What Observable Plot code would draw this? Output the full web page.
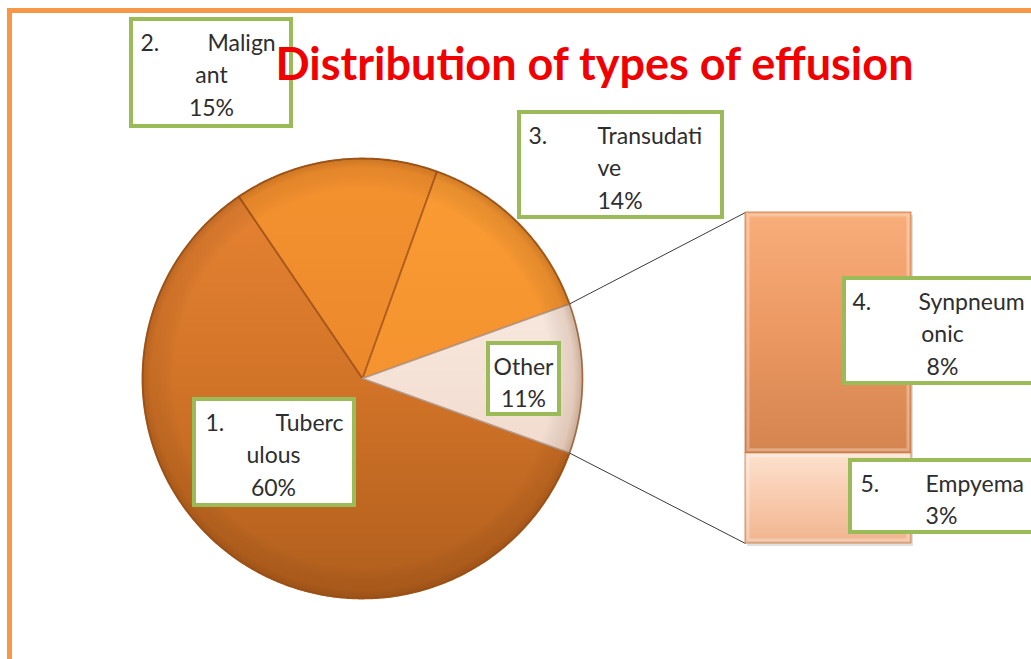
<!DOCTYPE html>
<html><head><meta charset="utf-8">
<script src="https://cdn.jsdelivr.net/npm/d3@7"></script>
<script src="https://cdn.jsdelivr.net/npm/@observablehq/plot@0.6"></script>
<style>
body{margin:0;background:#fff;}
#wrap{position:relative;width:1031px;height:659px;overflow:hidden;background:#fff;}
#wrap svg{position:absolute;left:0;top:0;}
#frame{position:absolute;left:7px;top:8px;width:1100px;height:700px;border-left:5px solid #F79646;border-top:5px solid #F79646;}
</style></head><body><div id="wrap"><div id="frame"></div></div>
<script>
// ---- data ----
const title = "Distribution of types of effusion";
const pieCategories = ["Tuberculous", "Malignant", "Transudative", "Other"];
const pieValues = [60, 15, 14, 11];
const pieNumbers = ["1.", "2.", "3.", null];
const barCategories = ["Synpneumonic", "Empyema"];
const barValues = [8, 3];
const barNumbers = ["4.", "5."];

// ---- layout (positions / styles) ----
const W = 1031, H = 659;
const pieGeom = {cx: 362, cy: 378, r: 220};
const barGeom = {x1: 745, x2: 911, yTop: 212, yBottom: 543};
const FONT = "Lato, 'Open Sans', sans-serif";
const labelFont = 23, lineStep = 32.5;
const labelLayout = {
  Tuberculous:  {box: [194, 354, 399, 505], numX: 205, wordX: 275, restX: 273, restAnchor: "middle", brk: 6},
  Malignant:    {box: [131, 291, 19, 126],  numX: 140, wordX: 207, restX: 211, restAnchor: "middle", brk: 6},
  Transudative: {box: [519, 722, 112, 217], numX: 528, wordX: 597, restX: 597, restAnchor: "start", brk: 10},
  Other:        {box: [488, 559, 343, 414], numX: null, wordX: 523, restX: 523, restAnchor: "middle", brk: 99},
  Synpneumonic: {box: [844, 1040, 278, 383], numX: 852, wordX: 918, restX: 942, restAnchor: "middle", brk: 8},
  Empyema:      {box: [850, 1036, 460, 532], numX: 860, wordX: 925, restX: 941, restAnchor: "middle", brk: 99}
};
const pieColors = [
  ["#EA8534", "#D27428", "#B05E1D"],
  ["#F5922F", "#EB882B", "#D57826"],
  ["#FA9C34", "#F4932F", "#E8882B"],
  ["#FCF2EC", "#F5E2D6", "#E8CEBE"]
];
const pieStrokes = ["#A8581B", "#A8581B", "#B0601E", "#B89A88"];
const barColors = [["#F8AE7B", "#EC9862", "#D4844F"], ["#FCE1CE", "#F8CBAE", "#F0B48E"]];

// ---- pie geometry from values ----
const total = d3.sum(pieValues);
const start = Math.PI / 2 + Math.PI * (pieValues[3] / total); // "Other" centred at 3 o'clock
const arcs = d3.pie().sort(null).startAngle(start).endAngle(start + 2 * Math.PI)(pieValues);
const pt = a => ({x: pieGeom.cx + pieGeom.r * Math.sin(a), y: pieGeom.cy - pieGeom.r * Math.cos(a)});
const slices = arcs.map((a, i) => {
  const pts = [{x: pieGeom.cx, y: pieGeom.cy}];
  const n = Math.max(4, Math.ceil((a.endAngle - a.startAngle) / 0.01));
  for (let k = 0; k <= n; k++) pts.push(pt(a.startAngle + (a.endAngle - a.startAngle) * k / n));
  pts.push({x: pieGeom.cx, y: pieGeom.cy});
  return {cat: pieCategories[i], points: pts};
});
const ring = d3.range(0, 361).map(d => pt(d * Math.PI / 180));
const otherArc = arcs[3];
const connectors = [
  {...pt(otherArc.startAngle), x2: barGeom.x1, y2: barGeom.yTop},
  {...pt(otherArc.endAngle), x2: barGeom.x1, y2: barGeom.yBottom}
];

const pixelScales = {
  x: {domain: [0, W], range: [0, W], axis: null},
  y: {domain: [0, H], range: [0, H], axis: null}
};

// ---- layer 1: pie + connectors ----
const piePlot = Plot.plot({
  width: W, height: H, margin: 0, ...pixelScales,
  style: {background: "transparent", fontFamily: FONT},
  marks: [
    ...slices.map((s, i) => Plot.line(s.points, {x: "x", y: "y", fill: `url(#pieGrad${i})`, stroke: pieStrokes[i], strokeWidth: 1.8, strokeLinejoin: "round", curve: "linear"})),
    Plot.line(ring, {x: "x", y: "y", fill: "url(#pieRim)", stroke: "#9A5319", strokeOpacity: 0.6, strokeWidth: 1.2}),
    Plot.link(connectors, {x1: "x", y1: "y", x2: "x2", y2: "y2", stroke: "#3a3a3a", strokeWidth: 1})
  ]
});
{
  const defs = d3.select(piePlot).insert("defs", ":first-child");
  pieColors.forEach((c, i) => {
    const g = defs.append("linearGradient").attr("id", `pieGrad${i}`).attr("gradientUnits", "userSpaceOnUse")
      .attr("x1", 0).attr("x2", 0).attr("y1", pieGeom.cy - pieGeom.r).attr("y2", pieGeom.cy + pieGeom.r);
    g.append("stop").attr("offset", "0").attr("stop-color", c[0]);
    g.append("stop").attr("offset", "0.5").attr("stop-color", c[1]);
    g.append("stop").attr("offset", "1").attr("stop-color", c[2]);
  });
  const rg = defs.append("radialGradient").attr("id", "pieRim").attr("gradientUnits", "userSpaceOnUse")
    .attr("cx", pieGeom.cx).attr("cy", pieGeom.cy).attr("r", pieGeom.r);
  rg.append("stop").attr("offset", "0").attr("stop-color", "#000").attr("stop-opacity", 0);
  rg.append("stop").attr("offset", "0.86").attr("stop-color", "#000").attr("stop-opacity", 0);
  rg.append("stop").attr("offset", "0.96").attr("stop-color", "#6a3208").attr("stop-opacity", 0.12);
  rg.append("stop").attr("offset", "1").attr("stop-color", "#6a3208").attr("stop-opacity", 0.3);
}

// ---- layer 2: stacked bar ----
const barData = barCategories.map((c, i) => ({cat: c, value: barValues[i], i})).reverse(); // Empyema at bottom
const barPlot = Plot.plot({
  width: W, height: H, margin: 0,
  x: {domain: [0, W], range: [0, W], axis: null},
  y: {domain: [0, d3.sum(barValues)], range: [barGeom.yBottom, barGeom.yTop], axis: null},
  color: {type: "identity"},
  style: {background: "transparent"},
  marks: [
    Plot.rectY(barData, {x1: barGeom.x1 + 2, x2: barGeom.x2 + 2, y: "value", fill: "#000", fillOpacity: 0.12, dy: 3}),
    Plot.rectY(barData, {x1: barGeom.x1, x2: barGeom.x2, y: "value", fill: d => `url(#barGrad${d.i})`, stroke: "#C47A4A", strokeWidth: 0.8}),
    Plot.rectY(barData, {x1: barGeom.x1, x2: barGeom.x2, y: "value", inset: 3, fill: "none", stroke: "#fff", strokeOpacity: 0.3, strokeWidth: 3})
  ]
});
{
  const defs = d3.select(barPlot).insert("defs", ":first-child");
  barColors.forEach((c, i) => {
    const g = defs.append("linearGradient").attr("id", `barGrad${i}`).attr("x1", 0).attr("x2", 0).attr("y1", 0).attr("y2", 1);
    g.append("stop").attr("offset", "0").attr("stop-color", c[0]);
    g.append("stop").attr("offset", "0.5").attr("stop-color", c[1]);
    g.append("stop").attr("offset", "1").attr("stop-color", c[2]);
  });
}

// ---- layer 3: labels + title ----
const labelItems = [
  ...pieCategories.map((c, i) => ({cat: c, num: pieNumbers[i], pct: `${pieValues[i]}%`})),
  ...barCategories.map((c, i) => ({cat: c, num: barNumbers[i], pct: `${barValues[i]}%`}))
];
const boxes = labelItems.map(d => {
  const b = labelLayout[d.cat].box;
  return {x1: b[0], x2: b[1], y1: b[2], y2: b[3]};
});
const texts = [];
labelItems.forEach(d => {
  const L = labelLayout[d.cat];
  const top = L.box[2];
  const first = d.cat.slice(0, L.brk), rest = d.cat.slice(L.brk);
  let y = top + 31;
  if (d.num) texts.push({x: L.numX, y, t: d.num, anchor: "start"});
  texts.push({x: L.wordX, y, t: first, anchor: d.num ? "start" : "middle"});
  if (rest) { y += lineStep; texts.push({x: L.restX, y, t: rest, anchor: L.restAnchor}); }
  y += lineStep;
  texts.push({x: L.restX, y, t: d.pct, anchor: L.restAnchor === "start" ? "start" : "middle"});
});
const textStyle = {x: "x", y: "y", text: "t", fill: "#2e2e2e", fontSize: labelFont, fontFamily: FONT, lineAnchor: "bottom"};
const labelPlot = Plot.plot({
  width: W, height: H, margin: 0, ...pixelScales,
  style: {background: "transparent", fontFamily: FONT},
  marks: [
    Plot.rect(boxes, {x1: "x1", x2: "x2", y1: "y1", y2: "y2", fill: "white", stroke: "#9BBB59", strokeWidth: 4}),
    Plot.text(texts.filter(d => d.anchor === "start"), {...textStyle, textAnchor: "start"}),
    Plot.text(texts.filter(d => d.anchor === "middle"), {...textStyle, textAnchor: "middle"}),
    Plot.text([title], {x: 594, y: 79, text: d => d, fill: "#F00000", fontWeight: "bold", fontSize: 45, fontFamily: FONT, lineAnchor: "bottom", textAnchor: "middle"})
  ]
});

const wrap = document.getElementById("wrap");
wrap.append(piePlot, barPlot, labelPlot);
</script>
</body></html>
